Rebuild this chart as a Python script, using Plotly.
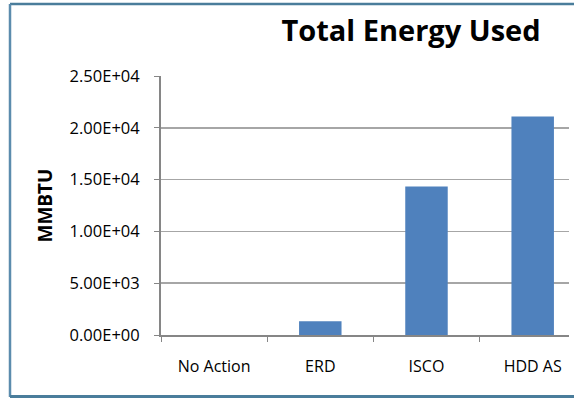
import plotly.graph_objects as go

categories = ["No Action", "ERD", "ISCO", "HDD AS"]
energy_mmbtu = [0, 1320, 14330, 21100]
y_tickvals = [0, 5000, 10000, 15000, 20000, 25000]
y_ticktext = ["0.00E+00", "5.00E+03", "1.00E+04", "1.50E+04", "2.00E+04", "2.50E+04"]

W, H = 574, 398
ML, MR, MT, MB = 161, 0, 76, 63
PW = W - ML - MR
PH = H - MT - MB

def px_x(p):
    return (p - ML) / PW

def px_y(p):
    return (H - MB - p) / PH

fig = go.Figure()
fig.add_trace(go.Bar(
    x=categories, y=energy_mmbtu,
    marker=dict(color="#4f81bd", line=dict(width=0)),
    width=0.4,
))

axis_col = "#868686"
grid_col = "#a6a6a6"
fnt = "Open Sans, sans-serif"

fig.update_layout(
    width=W, height=H,
    margin=dict(l=ML, r=MR, t=MT, b=MB),
    paper_bgcolor="white", plot_bgcolor="white",
    showlegend=False,
    font=dict(family=fnt, color="#000000"),
    title=dict(
        text="<b>Total Energy Used</b>", xref="paper", x=px_x(411), xanchor="center",
        yref="container", y=1 - 31 / H, yanchor="middle",
        font=dict(size=29, family=fnt, color="#000000"),
    ),
    xaxis=dict(
        type="category", range=[-0.5, 3.389],
        showline=True, linecolor=axis_col, linewidth=2,
        ticks="outside", tickson="boundaries", ticklen=5, tickcolor=axis_col, tickwidth=1,
        showgrid=False, ticklabelstandoff=16,
        tickfont=dict(size=16, family=fnt, color="#000000"),
    ),
    yaxis=dict(
        range=[0, 25000], tickvals=y_tickvals, ticktext=y_ticktext,
        showline=True, linecolor=axis_col, linewidth=2,
        ticks="outside", ticklen=5, tickcolor=axis_col, tickwidth=1,
        showgrid=True, gridcolor=grid_col, gridwidth=1.5,
        zeroline=False, ticklabelstandoff=11,
        tickfont=dict(size=16.5, family=fnt, color="#000000"),
        title=dict(text="<b>MMBTU</b>", standoff=12,
                   font=dict(size=19, family=fnt, color="#000000")),
    ),
    annotations=[
        dict(text="", xref="paper", yref="paper", showarrow=False,
             x=px_x(W), y=px_y(206), xanchor="right", yanchor="middle",
             width=5, height=272, bgcolor="white", borderwidth=0, borderpad=0),
    ],
    shapes=[
        dict(type="line", xref="paper", yref="paper",
             x0=px_x(10), x1=px_x(W + 5), y0=px_y(4), y1=px_y(4),
             line=dict(color="#4a7d9b", width=2.5)),
        dict(type="line", xref="paper", yref="paper",
             x0=px_x(10), x1=px_x(10), y0=px_y(4), y1=px_y(397),
             line=dict(color="#5b8cad", width=2.5)),
        dict(type="line", xref="paper", yref="paper",
             x0=px_x(10), x1=px_x(W + 5), y0=px_y(396.5), y1=px_y(396.5),
             line=dict(color="#4a7d9b", width=3)),
    ],
)

fig.write_html(
    "out.html",
    config={"staticPlot": True, "displayModeBar": False},
)
